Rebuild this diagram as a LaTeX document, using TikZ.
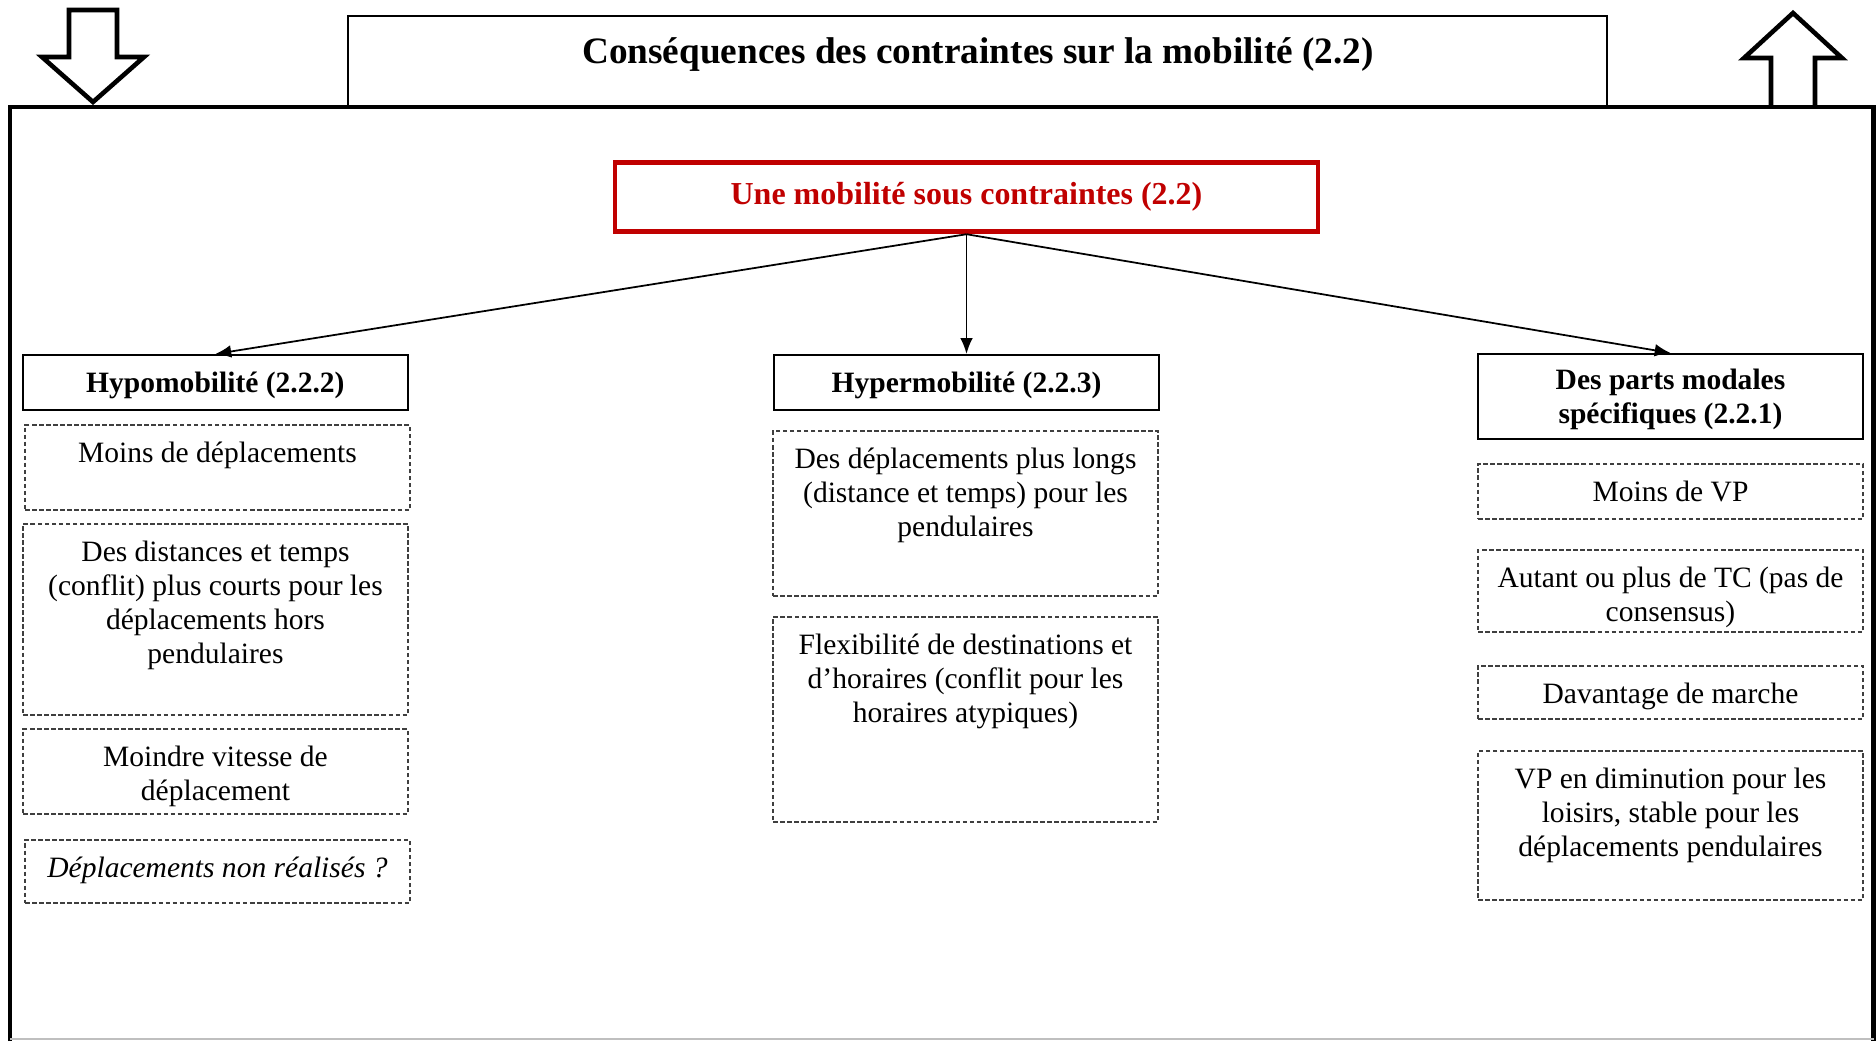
\documentclass[tikz,border=0pt]{standalone}
\usepackage{fontspec}
\setmainfont{Liberation Serif}
\usetikzlibrary{arrows.meta,positioning}
\definecolor{Contrainte}{HTML}{C00000}
\definecolor{DashInk}{HTML}{3F3F3F}

\begin{document}
\begin{tikzpicture}[txt/.style={font=\fontsize{8.4}{9.65}\selectfont, align=center, inner sep=0pt},hdr/.style={draw, line width=0.6pt, minimum width=3.85cm, minimum height=0.55cm, inner sep=0pt, text depth=0pt, align=center, font=\fontsize{8.4}{9.65}\selectfont\bfseries},dbox/.style={draw=DashInk, line width=0.45pt, dash pattern=on 1.3pt off 0.7pt, minimum width=3.85cm, inner sep=0pt},link/.style={-{Latex[length=4.5pt,width=3.6pt]}, line width=0.5pt},bigarrow/.style={line width=1.3pt, line join=miter}]
\useasboundingbox (0,0) rectangle (18.76,-10.41);
% cadre et fleches
\draw[line width=1.2pt] (0.10,-10.41) -- (0.10,-1.07) -- (18.735,-1.07) -- (18.735,-10.41);
\draw[black!25, line width=0.4pt] (0.10,-10.39) -- (18.735,-10.39);
\draw[bigarrow] (0.69,-0.10) -- (1.17,-0.10) -- (1.17,-0.57) -- (1.44,-0.57) -- (0.93,-1.02) -- (0.42,-0.57) -- (0.69,-0.57) -- cycle;
\draw[bigarrow] (17.71,-1.07) -- (17.71,-0.58) -- (17.44,-0.58) -- (17.93,-0.13) -- (18.42,-0.58) -- (18.15,-0.58) -- (18.15,-1.07);
\node[draw, line width=0.6pt, minimum width=12.59cm, minimum height=0.91cm, inner sep=0pt] (titre) at (9.775,-0.615) {};
\node[font=\fontsize{10.6}{12}\selectfont\bfseries, inner sep=0pt] (titretxt) at (9.78,-0.55) {Conséquences des contraintes sur la mobilité (2.2)};
% racine
\node[draw=Contrainte, line width=1.4pt, minimum width=7.03cm, minimum height=0.695cm, text=Contrainte, font=\fontsize{9.1}{10}\selectfont\bfseries] (racine) at (9.665,-1.97) {Une mobilité sous contraintes (2.2)};
% entetes
\node[hdr] (hypo) at (2.154,-3.825) {Hypomobilité (2.2.2)};
\node[hdr] (hyper) at (9.665,-3.825) {Hypermobilité (2.2.3)};
\node[hdr, minimum height=0.85cm, text depth=-4.5pt] (parts) at (16.705,-3.965) {Des parts modales\\spécifiques (2.2.1)};
\draw[link] (racine.south) -- (hypo.north);
\draw[link] (racine.south) -- (hyper.north);
\draw[link] (racine.south) -- (parts.north);
% hypomobilite
\node[dbox, minimum height=0.85cm] (hA) at (2.175,-4.675) {};
\node[txt, below=0.17cm of hA.north] (hAt) {Moins de déplacements};
\node[dbox, minimum height=1.91cm] (hB) at (2.155,-6.195) {};
\node[txt, below=0.17cm of hB.north] (hBt) {Des distances et temps\\(conflit) plus courts pour les\\déplacements hors\\pendulaires};
\node[dbox, minimum height=0.85cm] (hC) at (2.155,-7.715) {};
\node[txt, below=0.17cm of hC.north] (hCt) {Moindre vitesse de\\déplacement};
\node[dbox, minimum height=0.63cm] (hD) at (2.175,-8.715) {};
\node[txt, below=0.17cm of hD.north] (hDt) {\itshape Déplacements non réalisés ?};
% hypermobilite
\node[dbox, minimum height=1.65cm] (mA) at (9.655,-5.135) {};
\node[txt, below=0.17cm of mA.north] (mAt) {Des déplacements plus longs\\(distance et temps) pour les\\pendulaires};
\node[dbox, minimum height=2.05cm] (mB) at (9.655,-7.195) {};
\node[txt, below=0.17cm of mB.north] (mBt) {Flexibilité de destinations et\\d’horaires (conflit pour les\\horaires atypiques)};
% parts modales
\node[dbox, minimum height=0.55cm] (rA) at (16.705,-4.915) {};
\node[txt, below=0.17cm of rA.north] (rAt) {Moins de VP};
\node[dbox, minimum height=0.82cm] (rB) at (16.705,-5.91) {};
\node[txt, below=0.17cm of rB.north] (rBt) {Autant ou plus de TC (pas de\\consensus)};
\node[dbox, minimum height=0.53cm] (rC) at (16.705,-6.925) {};
\node[txt, below=0.17cm of rC.north] (rCt) {Davantage de marche};
\node[dbox, minimum height=1.49cm] (rD) at (16.705,-8.255) {};
\node[txt, below=0.17cm of rD.north] (rDt) {VP en diminution pour les\\loisirs, stable pour les\\déplacements pendulaires};
\end{tikzpicture}
\end{document}
